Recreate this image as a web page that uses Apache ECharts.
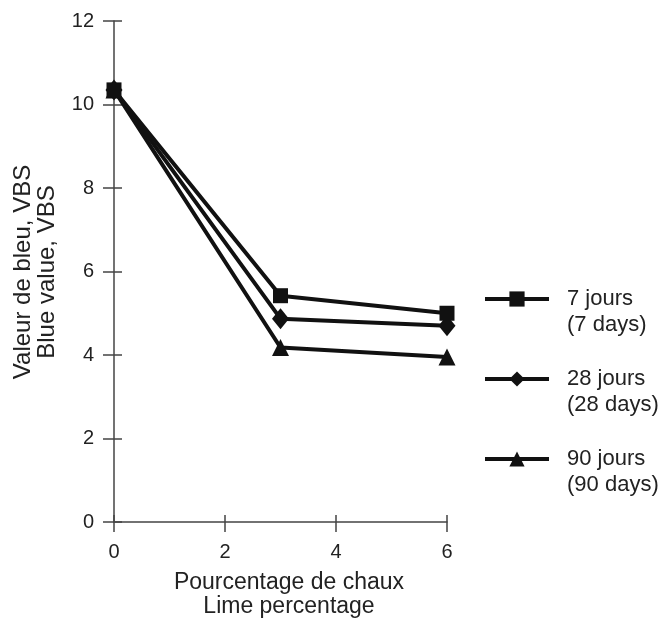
<!DOCTYPE html>
<html>
<head>
<meta charset="utf-8">
<script src="https://cdn.jsdelivr.net/npm/echarts@6/dist/echarts.min.js"></script>
<style>
  html, body { margin: 0; padding: 0; background: #fff; }
  #chart { width: 665px; height: 624px; }
</style>
</head>
<body>
<div id="chart"></div>
<script>
// data
const limePct = [0, 3, 6]
const days7 = [10.35, 5.42, 5.0]
const days28 = [10.35, 4.87, 4.7]
const days90 = [10.35, 4.18, 3.95]
const seriesNames = ['7 jours\n(7 days)', '28 jours\n(28 days)', '90 jours\n(90 days)']
const xTicks = [0, 2, 4, 6]
const yTicks = [0, 2, 4, 6, 8, 10, 12]

const ink = '#111'
const axisInk = '#444'
const font = '"Liberation Sans", Arial, sans-serif'

function pairs (ys) {
  return limePct.map((x, i) => [x, ys[i]])
}

function makeSeries (name, ys, symbol, size) {
  return {
    name: name,
    type: 'line',
    data: pairs(ys),
    symbol: symbol,
    symbolSize: size,
    lineStyle: { color: ink, width: 4 },
    itemStyle: { color: ink },
    emphasis: { disabled: true }
  }
}

// two copies of each axis: one with outward ticks + labels, one with inward ticks
function xAxisDef (inside) {
  return {
    type: 'value',
    min: xTicks[0],
    max: xTicks[xTicks.length - 1],
    interval: 2,
    position: 'bottom',
    axisLine: { show: !inside, onZero: false, lineStyle: { color: axisInk, width: 1.5 } },
    axisTick: { show: true, inside: inside, length: inside ? 7 : 10, lineStyle: { color: axisInk, width: 1.5 } },
    axisLabel: { show: !inside, margin: 20, color: '#222', fontSize: 20, fontFamily: font },
    splitLine: { show: false }
  }
}

function yAxisDef (inside) {
  return {
    type: 'value',
    min: yTicks[0],
    max: yTicks[yTicks.length - 1],
    interval: 2,
    position: 'left',
    offset: 0,
    axisLine: { show: !inside, onZero: false, lineStyle: { color: axisInk, width: 1.5 } },
    axisTick: { show: true, inside: inside, length: inside ? 8 : 11, lineStyle: { color: axisInk, width: 1.5 } },
    axisLabel: { show: !inside, margin: 20, color: '#222', fontSize: 20, fontFamily: font },
    splitLine: { show: false }
  }
}

const chart = echarts.init(document.getElementById('chart'), null, { renderer: 'canvas' })

chart.setOption({
  backgroundColor: '#fff',
  animation: false,
  grid: { left: 114, right: 218, top: 21, bottom: 102, containLabel: false },
  xAxis: [xAxisDef(false), xAxisDef(true)],
  yAxis: [yAxisDef(false), yAxisDef(true)],
  legend: {
    orient: 'vertical',
    left: 483,
    top: 260,
    padding: 0,
    itemWidth: 64,
    itemHeight: 19,
    itemGap: 2,
    selectedMode: false,
    data: seriesNames,
    lineStyle: { width: 4, color: ink },
    // leading empty line so the icon lines up with the first text line
    formatter: name => '\n' + name,
    textStyle: {
      color: '#222',
      fontSize: 22,
      fontFamily: font,
      lineHeight: 26,
      padding: [0, 0, 0, 13]
    }
  },
  // 7 days drawn last so its square sits on top at x = 0
  series: [
    makeSeries(seriesNames[2], days90, 'triangle', 17),
    makeSeries(seriesNames[1], days28, 'diamond', [17, 21]),
    makeSeries(seriesNames[0], days7, 'rect', 15)
  ],
  graphic: [
    {
      type: 'text',
      x: 289,
      y: 595,
      style: {
        text: 'Pourcentage de chaux\nLime percentage',
        fill: '#222',
        font: '23px ' + font,
        lineHeight: 24,
        align: 'center',
        verticalAlign: 'middle'
      }
    },
    {
      type: 'text',
      x: 35,
      y: 272,
      rotation: Math.PI / 2,
      style: {
        text: 'Valeur de bleu, VBS\nBlue value, VBS',
        fill: '#222',
        font: '24px ' + font,
        lineHeight: 24,
        align: 'center',
        verticalAlign: 'middle'
      }
    }
  ]
})
</script>
</body>
</html>
